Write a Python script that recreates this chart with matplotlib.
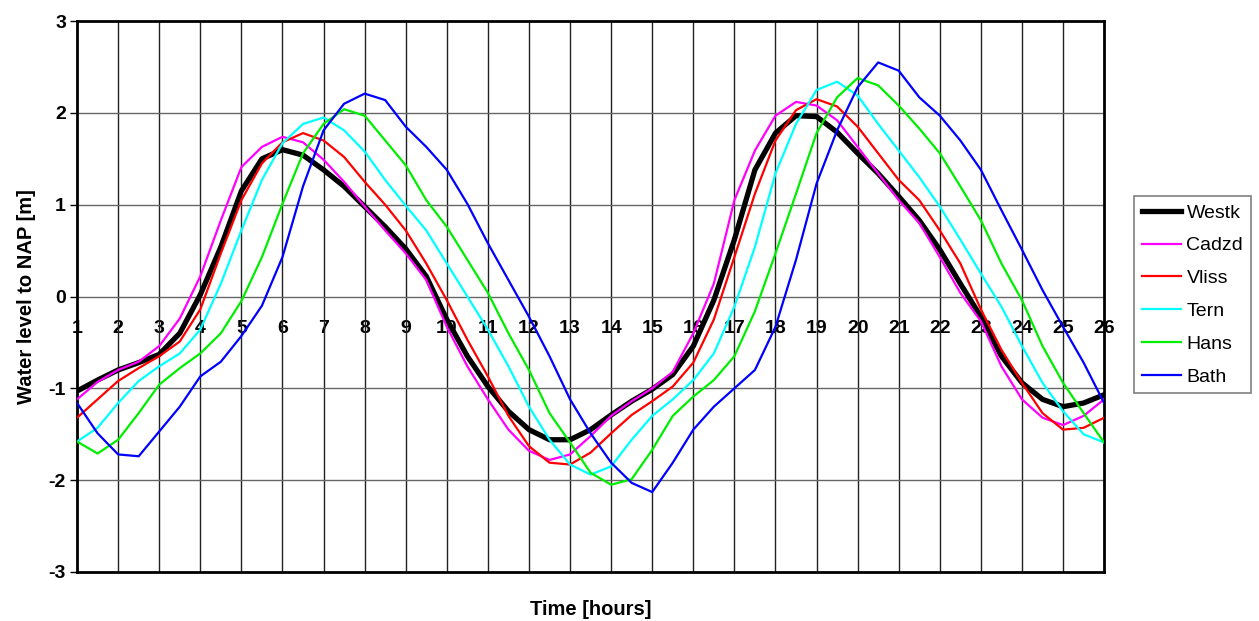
import numpy as np
import matplotlib
matplotlib.use("Agg")
import matplotlib.pyplot as plt

plt.rcParams['font.family'] = ['Liberation Sans', 'DejaVu Sans']
plt.rcParams['axes.unicode_minus'] = False

# time axis, half-hour samples
hours = np.arange(1, 26.01, 0.5)

westk = [-1.03, -0.91, -0.80, -0.72, -0.63, -0.40, 0.02, 0.54, 1.15, 1.50,
         1.60, 1.54, 1.38, 1.20, 0.98, 0.76, 0.52, 0.22, -0.25, -0.65,
         -0.98, -1.25, -1.45, -1.56, -1.56, -1.45, -1.29, -1.14, -1.01, -0.85,
         -0.54, -0.04, 0.62, 1.38, 1.78, 1.97, 1.96, 1.79, 1.56, 1.34,
         1.09, 0.83, 0.51, 0.14, -0.22, -0.65, -0.94, -1.12, -1.20, -1.16, -1.07]
cadzd = [-1.12, -0.93, -0.80, -0.71, -0.54, -0.24, 0.22, 0.83, 1.41, 1.63,
         1.74, 1.68, 1.49, 1.25, 0.98, 0.72, 0.47, 0.18, -0.33, -0.76,
         -1.12, -1.45, -1.68, -1.78, -1.72, -1.52, -1.30, -1.14, -1.00, -0.82,
         -0.40, 0.14, 1.05, 1.59, 1.97, 2.12, 2.08, 1.92, 1.63, 1.34,
         1.05, 0.80, 0.43, 0.04, -0.27, -0.76, -1.12, -1.32, -1.40, -1.30, -1.12]
vliss = [-1.32, -1.12, -0.92, -0.78, -0.65, -0.49, -0.14, 0.47, 1.05, 1.45,
         1.68, 1.78, 1.70, 1.52, 1.25, 1.00, 0.72, 0.36, -0.04, -0.47,
         -0.87, -1.30, -1.63, -1.81, -1.83, -1.70, -1.49, -1.29, -1.14, -0.98,
         -0.72, -0.25, 0.43, 1.12, 1.70, 2.03, 2.15, 2.07, 1.85, 1.56,
         1.27, 1.05, 0.72, 0.36, -0.14, -0.58, -0.94, -1.27, -1.45, -1.43, -1.32]
tern = [-1.58, -1.43, -1.16, -0.92, -0.76, -0.62, -0.36, 0.14, 0.72, 1.27,
        1.67, 1.88, 1.95, 1.81, 1.58, 1.27, 0.99, 0.72, 0.36, 0.00,
        -0.36, -0.76, -1.20, -1.56, -1.83, -1.94, -1.85, -1.56, -1.30, -1.12,
        -0.91, -0.62, -0.11, 0.54, 1.34, 1.88, 2.25, 2.34, 2.19, 1.88,
        1.59, 1.30, 0.98, 0.62, 0.25, -0.11, -0.54, -0.94, -1.25, -1.50, -1.59]
hans = [-1.58, -1.71, -1.56, -1.27, -0.96, -0.78, -0.62, -0.40, -0.05, 0.43,
        1.01, 1.56, 1.88, 2.04, 1.97, 1.70, 1.43, 1.05, 0.76, 0.40,
        0.04, -0.40, -0.80, -1.27, -1.59, -1.92, -2.05, -1.99, -1.67, -1.30,
        -1.09, -0.91, -0.65, -0.16, 0.47, 1.12, 1.78, 2.17, 2.38, 2.30,
        2.08, 1.83, 1.56, 1.20, 0.83, 0.36, -0.04, -0.54, -0.94, -1.27, -1.59]
bath = [-1.16, -1.49, -1.72, -1.74, -1.47, -1.20, -0.87, -0.71, -0.43, -0.10,
        0.43, 1.20, 1.81, 2.10, 2.21, 2.14, 1.85, 1.63, 1.38, 1.01,
        0.58, 0.18, -0.22, -0.65, -1.12, -1.49, -1.81, -2.03, -2.13, -1.81,
        -1.45, -1.20, -1.00, -0.80, -0.33, 0.40, 1.23, 1.81, 2.28, 2.55,
        2.46, 2.17, 1.97, 1.70, 1.38, 0.94, 0.51, 0.07, -0.33, -0.72, -1.16]

names = ["Westk", "Cadzd", "Vliss", "Tern", "Hans", "Bath"]
series = [westk, cadzd, vliss, tern, hans, bath]
colors = ["black", "#ff00ff", "#ff0000", "#00ffff", "#00ee00", "#0000ff"]
widths = [3.8, 1.6, 1.6, 1.6, 1.6, 1.6]

fig = plt.figure(figsize=(12.59, 6.21), dpi=100)
ax = fig.add_axes([0.0612, 0.079, 0.8158, 0.887])

for vals, name, c, w in zip(series, names, colors, widths):
    ax.plot(hours, vals, color=c, lw=w, label=name, zorder=3 if name != "Westk" else 2)

ax.set_xlim(1, 26)
ax.set_ylim(-3, 3)
ax.set_xticks(range(1, 27))
ax.set_yticks(range(-3, 4))
for x in range(2, 26):
    ax.axvline(x, color='#222222', lw=1.0, zorder=1)
for y in range(-2, 3):
    ax.axhline(y, color='#666666', lw=1.0, zorder=1)

ax.tick_params(axis='x', length=0, labelbottom=False)
ax.tick_params(axis='y', length=5, width=1, labelsize=14, pad=3)
for lab in ax.get_yticklabels():
    lab.set_fontweight('bold')
for s in ax.spines.values():
    s.set_linewidth(2)

# hour labels sit just under the zero line
sec = ax.secondary_xaxis(0.5)
sec.set_alignment('bottom')
sec.set_xticks(range(1, 27))
sec.spines['bottom'].set_visible(False)
sec.tick_params(length=0, pad=17, labelsize=14)
for lab in sec.get_xticklabels():
    lab.set_fontweight('bold')

ax.set_xlabel('Time [hours]', fontsize=14.5, fontweight='bold', labelpad=20)
ax.set_ylabel('Water level to NAP [m]', fontsize=14.5, fontweight='bold', labelpad=9)

leg = ax.legend(loc='upper left', bbox_to_anchor=(1.029, 0.682), fontsize=14,
                fancybox=False, framealpha=1, edgecolor='#808080',
                handlelength=2.0, handletextpad=0.3, labelspacing=0.78,
                borderpad=0.4, borderaxespad=0)
leg.get_frame().set_linewidth(1.2)

plt.savefig("out.png", dpi=100)
